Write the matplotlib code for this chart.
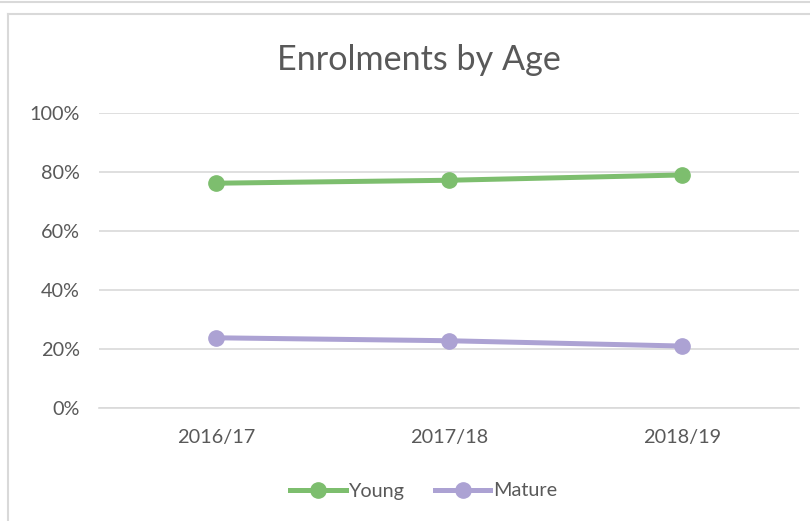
import matplotlib
matplotlib.use("Agg")
import matplotlib.pyplot as plt
from matplotlib.lines import Line2D
from matplotlib.ticker import FuncFormatter

plt.rcParams['font.family'] = ['Lato', 'DejaVu Sans']

years = ["2016/17", "2017/18", "2018/19"]
young = [76.2, 77.2, 79.0]
mature = [23.8, 22.8, 21.0]
series_names = ["Young", "Mature"]
y_ticks = [0, 20, 40, 60, 80, 100]

green = "#7DBE6E"
purple = "#ACA2D3"
text_c = "#595959"
grid_c = "#D9D9D9"

W, H = 810, 521
fig = plt.figure(figsize=(W / 100, H / 100), dpi=100)

# chart frame lines
fig.add_artist(Line2D([0, 1], [1 - 2 / H, 1 - 2 / H], color=grid_c, lw=1.5, transform=fig.transFigure))
fig.add_artist(Line2D([8 / W, 1.01], [1 - 14 / H, 1 - 14 / H], color=grid_c, lw=1.5, transform=fig.transFigure))
fig.add_artist(Line2D([8 / W, 8 / W], [-0.01, 1 - 14 / H], color=grid_c, lw=1.5, transform=fig.transFigure))

left, right = 99 / W, 799 / W
top, bottom = 1 - 113 / H, 1 - 408 / H
ax = fig.add_axes([left, bottom, right - left, top - bottom])

x = list(range(len(years)))
ax.plot(x, young, color=green, lw=3.6, marker='o', ms=11, solid_capstyle='round', label=series_names[0], zorder=3)
ax.plot(x, mature, color=purple, lw=3.6, marker='o', ms=11, solid_capstyle='round', label=series_names[1], zorder=3)

ax.set_xlim(-0.5, 2.5)
ax.set_ylim(0, 100)
ax.set_yticks(y_ticks)
ax.yaxis.set_major_formatter(FuncFormatter(lambda v, p: f"{int(v)}%"))
ax.set_xticks(x)
ax.set_xticklabels(years)
ax.grid(axis='y', color=grid_c, lw=1.2)
ax.set_axisbelow(True)
for s in ["top", "right", "left"]:
    ax.spines[s].set_visible(False)
ax.spines["bottom"].set_color(grid_c)
ax.spines["bottom"].set_linewidth(1.2)
ax.tick_params(axis='both', length=0, colors=text_c, labelsize=14.3)
ax.tick_params(axis='y', pad=14)
ax.tick_params(axis='x', pad=15)

fig.text(419 / W, 1 - 60 / H, "Enrolments by Age", ha='center', va='center', fontsize=24.6, color=text_c)

handles = [Line2D([], [], color=green, lw=3.6, marker='o', ms=11),
           Line2D([], [], color=purple, lw=3.6, marker='o', ms=11)]
fig.legend(handles, series_names, loc='center', bbox_to_anchor=(424 / W, 1 - 491 / H), ncol=2,
           frameon=False, fontsize=14.3, labelcolor=text_c, handlelength=2.8, handletextpad=0.15,
           columnspacing=1.5)

fig.savefig("out.png", dpi=100)
